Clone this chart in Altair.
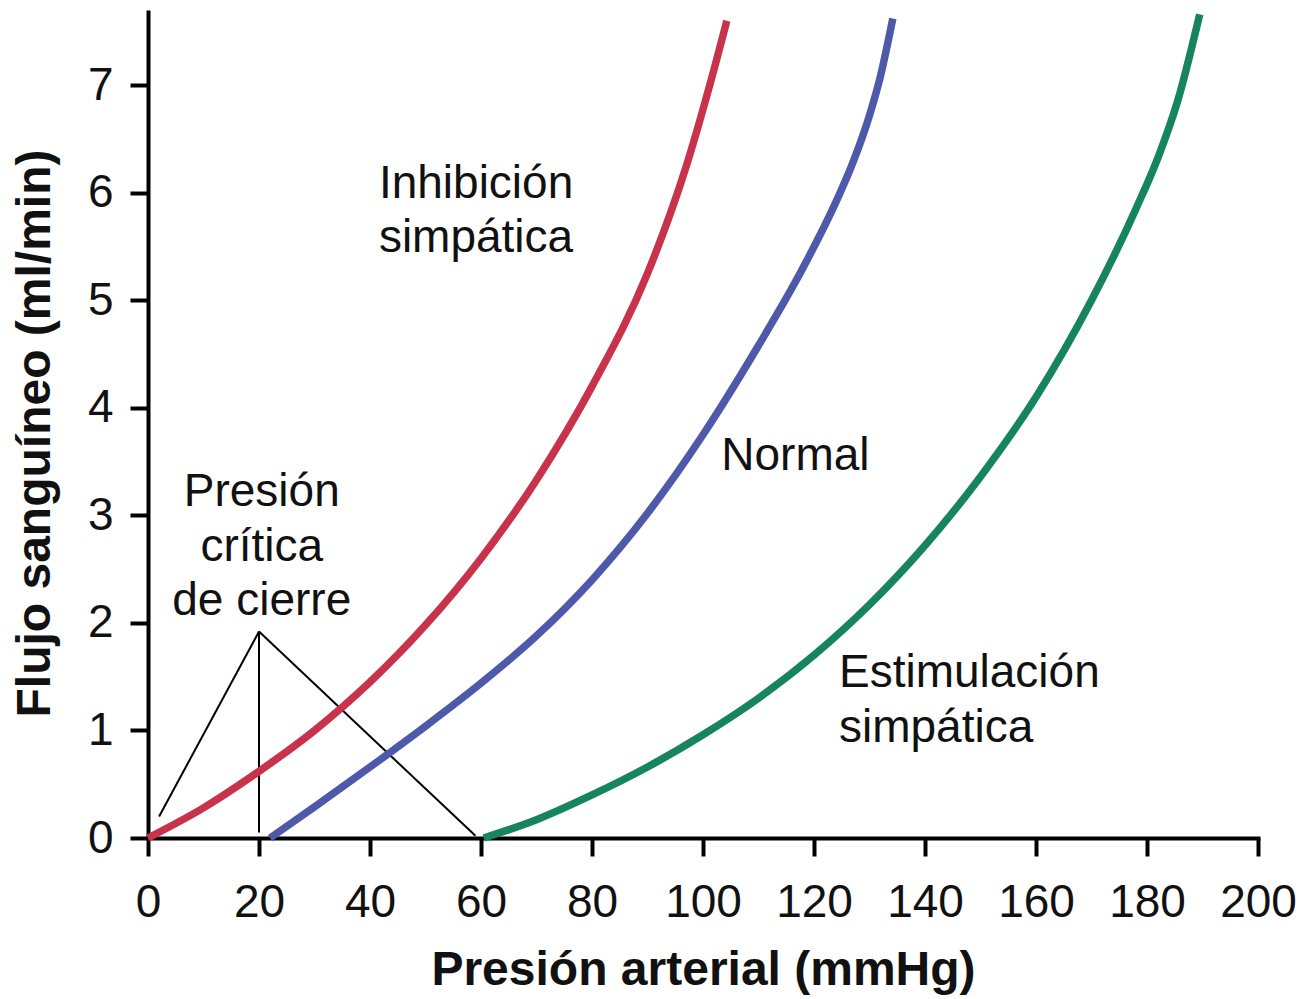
import altair as alt
import pandas as pd

FONT = "Liberation Sans, Arial, Helvetica, sans-serif"

# --- curve data ---
inhib_x = [0, 10, 20, 30, 40, 50, 60, 70, 80, 90, 97, 102, 104.3]
inhib_y = [0, 0.28, 0.62, 1.0, 1.45, 1.98, 2.6, 3.33, 4.2, 5.25, 6.25, 7.15, 7.6]

normal_x = [22, 30, 40, 50, 60, 70, 80, 90, 100, 110, 118, 124, 127, 130, 132, 134.2]
normal_y = [0, 0.29, 0.66, 1.04, 1.44, 1.88, 2.4, 3.02, 3.75, 4.58, 5.3, 5.92, 6.28, 6.72, 7.09, 7.62]

estim_x = [60.5, 70, 80, 90, 100, 110, 120, 130, 140, 150, 160, 170, 178, 182, 185.5, 189.5]
estim_y = [0, 0.17, 0.4, 0.66, 0.96, 1.3, 1.7, 2.17, 2.72, 3.36, 4.1, 5.0, 5.85, 6.33, 6.85, 7.66]

series_names = ["Inhibición simpática", "Normal", "Estimulación simpática"]
series_colors = ["#C8334B", "#4E59AA", "#16845C"]

x_ticks = [0, 20, 40, 60, 80, 100, 120, 140, 160, 180, 200]
y_ticks = [0, 1, 2, 3, 4, 5, 6, 7]

# critical closing pressure pointer (apex and three feet)
pointer_apex = (20, 1.92)
pointer_feet_x = [2, 20, 59]
pointer_feet_y = [0.2, 0.05, 0.02]

# annotation text lines
center_labels = ["Presión", "crítica", "de cierre"]
center_x = [20.5, 20.5, 20.5]
center_y = [3.22, 2.71, 2.20]

left_labels = ["Inhibición", "simpática", "Normal", "Estimulación", "simpática"]
left_x = [41.6, 41.6, 103.3, 124.5, 124.5]
left_y = [6.08, 5.58, 3.55, 1.53, 1.02]

# --- build tables ---
rows = []
for name, xs, ys in zip(series_names, [inhib_x, normal_x, estim_x], [inhib_y, normal_y, estim_y]):
    for i, (a, b) in enumerate(zip(xs, ys)):
        rows.append({"serie": name, "x": a, "y": b, "o": i})
curves = pd.DataFrame(rows)

pointer = pd.DataFrame({
    "x": [pointer_apex[0]] * 3,
    "y": [pointer_apex[1]] * 3,
    "x2": pointer_feet_x,
    "y2": pointer_feet_y,
})

center_df = pd.DataFrame({"x": center_x, "y": center_y, "t": center_labels})
left_df = pd.DataFrame({"x": left_x, "y": left_y, "t": left_labels})

xscale = alt.Scale(domain=[0, 200], nice=False, zero=False)
yscale = alt.Scale(domain=[0, 7.7], nice=False, zero=False)

xaxis = alt.Axis(
    values=x_ticks, title="Presión arterial (mmHg)", grid=False, format="d",
    domainColor="black", domainWidth=4, domainCap="square",
    tickColor="black", tickWidth=4, tickSize=18,
    labelFont=FONT, labelFontSize=46, labelColor="#111", labelPadding=24,
    labelFlush=False, labelOverlap=False,
    titleFont=FONT, titleFontSize=48, titleFontWeight="bold", titleColor="#111",
    titleBaseline="top", titleY=108,
)
yaxis = alt.Axis(
    values=y_ticks, title="Flujo sanguíneo (ml/min)", grid=False, format="d",
    domainColor="black", domainWidth=4,
    tickColor="black", tickWidth=4, tickSize=18,
    labelFont=FONT, labelFontSize=46, labelColor="#111", labelPadding=17,
    labelFlush=False, labelOverlap=False,
    titleFont=FONT, titleFontSize=48, titleFontWeight="bold", titleColor="#111",
    titleBaseline="middle", titleX=-113, titleY=423, titleAngle=-90,
)

lines = alt.Chart(curves).mark_line(strokeWidth=7.5, interpolate="monotone").encode(
    x=alt.X("x:Q", scale=xscale, axis=xaxis),
    y=alt.Y("y:Q", scale=yscale, axis=yaxis),
    color=alt.Color("serie:N", scale=alt.Scale(domain=series_names, range=series_colors), legend=None),
    detail="serie:N",
    order="o:Q",
)

ptr = alt.Chart(pointer).mark_rule(color="black", strokeWidth=2).encode(
    x=alt.X("x:Q", scale=xscale),
    y=alt.Y("y:Q", scale=yscale),
    x2="x2:Q",
    y2="y2:Q",
)

txt_c = alt.Chart(center_df).mark_text(
    font=FONT, fontSize=46, color="#111", align="center", baseline="middle"
).encode(x=alt.X("x:Q", scale=xscale), y=alt.Y("y:Q", scale=yscale), text="t:N")

txt_l = alt.Chart(left_df).mark_text(
    font=FONT, fontSize=46, color="#111", align="left", baseline="middle"
).encode(x=alt.X("x:Q", scale=xscale), y=alt.Y("y:Q", scale=yscale), text="t:N")

chart = alt.layer(ptr, lines, txt_c, txt_l).properties(
    width=1110, height=828,
    autosize=alt.AutoSizeParams(type="none"),
    padding={"left": 140, "top": 2, "right": 40, "bottom": 158},
    background="white",
).configure_view(stroke=None)

chart.save("out.html", embed_options={"renderer": "svg", "actions": False})
